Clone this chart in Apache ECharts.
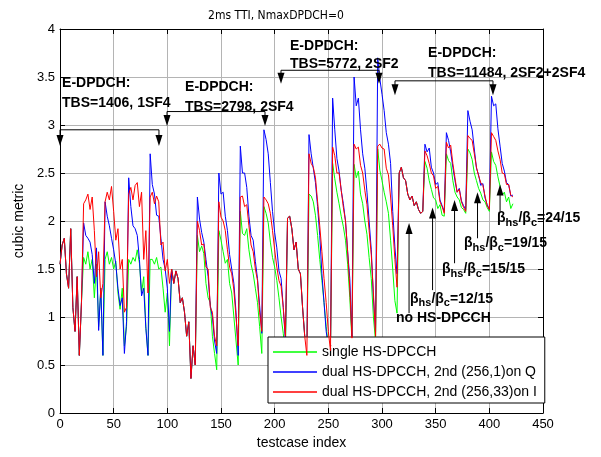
<!DOCTYPE html>
<html><head><meta charset="utf-8">
<script src="https://cdn.jsdelivr.net/npm/echarts@6/dist/echarts.min.js"></script>
<style>html,body{margin:0;padding:0;background:#fff}#c{width:601px;height:457px}</style>
</head><body><div id="c"></div>
<script>
const FONT = "'Liberation Sans', Arial, Helvetica, sans-serif";
const NARROW = "'Liberation Sans Narrow', 'Arial Narrow', 'DejaVu Sans Condensed', 'Liberation Sans', sans-serif";
const seriesNames = ['single HS-DPCCH', 'dual HS-DPCCH, 2nd (256,1)on Q', 'dual HS-DPCCH, 2nd (256,33)on I'];
const seriesColors = ['#00ff00', '#0000ff', '#ff0000'];
const xTickValues = [0, 50, 100, 150, 200, 250, 300, 350, 400, 450];
const yTickValues = [0, 0.5, 1, 1.5, 2, 2.5, 3, 3.5, 4];
// testcase index sampled every second testcase (0 .. 422)
const testcase = [];
for (let i = 0; i < 212; i++) testcase.push(i * 2);

const single = [
1.55,1.75,1.82,1.45,1.3,1.92,1.1,0.85,1.42,0.6,1.15,
1.62,1.55,1.68,1.5,1.6,1.2,1.55,0.9,1.3,0.6,
1.6,1.68,1.55,1.62,1.5,1.58,1.25,1.08,1.3,0.7,0.9,
1.6,1.55,1.62,1.58,1.7,1.56,1.25,1.42,0.9,0.6,
1.6,1.6,1.55,1.62,1.5,1.52,1.3,1.05,1.25,0.7,
1.5,1.35,1.48,1.4,1.15,1.2,1.05,0.8,0.95,0.36,0.7,0.5,
1.85,1.68,1.74,1.66,1.35,1.2,1.15,0.8,0.62,0.45,
1.9,1.8,1.68,1.56,1.6,1.35,1.25,1.0,0.75,0.5,
2.1,1.87,1.85,1.92,1.7,1.55,1.45,1.3,1.15,0.9,0.62,
2.15,2.08,1.98,1.78,1.62,1.52,1.38,1.2,1.0,0.83,0.6,
2.03,2.05,1.92,1.7,1.78,1.5,1.45,1.1,0.8,0.6,
2.28,2.26,2.2,2.06,1.85,1.6,1.38,1.15,0.9,0.7,0.6,
2.6,2.44,2.3,2.18,2.05,1.94,1.8,1.55,1.2,0.75,
2.59,2.45,2.52,2.28,2.18,2.0,1.86,1.62,1.4,1.0,0.75,
2.75,2.53,2.42,2.3,2.2,2.08,1.8,1.5,1.17,1.04,
2.5,2.56,2.45,2.42,2.28,2.22,2.26,2.16,2.2,2.12,2.08,2.1,
2.62,2.55,2.42,2.33,2.24,2.22,2.13,2.17,2.06,2.05,
2.7,2.63,2.6,2.42,2.3,2.25,2.22,2.14,2.12,2.08,
2.75,2.71,2.64,2.5,2.42,2.34,2.29,2.22,2.2,2.14,2.1,
2.72,2.62,2.58,2.46,2.36,2.27,2.3,2.2,2.25,2.13,2.18
];
const dualQ = [
1.55,1.75,1.82,1.45,1.3,1.92,1.1,0.85,1.42,0.6,1.15,
1.98,1.85,1.82,1.78,1.65,1.35,1.72,0.86,1.3,0.6,
2.2,2.05,1.95,1.82,1.7,1.55,1.3,1.12,1.2,0.62,0.95,
2.45,2.15,1.95,1.92,1.85,1.6,1.22,1.3,0.88,0.6,
2.7,2.38,2.28,2.06,2.05,1.82,1.6,1.5,1.3,0.85,
1.5,1.35,1.48,1.4,1.15,1.2,1.05,0.8,0.95,0.36,0.7,0.5,
2.25,2.02,1.88,1.78,1.6,1.42,1.12,1.0,0.75,0.62,
2.5,2.28,2.3,2.05,1.9,1.65,1.5,1.35,1.05,0.6,
2.78,2.5,2.5,2.35,2.05,1.85,1.8,1.58,1.4,1.12,0.83,
2.95,2.85,2.7,2.4,2.1,1.88,1.72,1.48,1.4,1.1,0.75,
2.03,2.05,1.92,1.7,1.78,1.5,1.45,1.1,0.8,0.6,
2.9,2.7,2.55,2.4,2.15,1.85,1.45,1.15,0.85,0.7,0.6,
3.28,2.95,2.65,2.52,2.32,2.18,2.0,1.68,1.4,0.78,
3.5,3.2,3.28,2.95,2.7,2.55,2.3,2.0,1.7,1.2,0.85,
3.7,3.48,3.32,3.15,2.92,2.8,2.6,2.1,1.73,1.45,
2.5,2.56,2.45,2.42,2.28,2.22,2.26,2.16,2.2,2.12,2.08,2.1,
2.8,2.72,2.76,2.56,2.5,2.38,2.4,2.22,2.16,2.1,
2.92,2.84,2.72,2.56,2.42,2.3,2.34,2.21,2.16,2.12,
3.15,3.04,2.95,2.75,2.55,2.48,2.37,2.39,2.24,2.17,2.12,
3.3,3.2,3.22,2.96,2.78,2.6,2.52,2.4,2.38,2.26,2.27
];
const dualI = [
1.55,1.75,1.82,1.45,1.3,1.92,1.1,0.85,1.42,0.6,1.15,
2.18,2.22,2.28,2.12,2.25,1.9,1.42,1.68,1.2,1.35,
2.2,2.3,2.22,2.36,2.1,1.8,1.92,1.5,1.6,1.05,1.1,
2.28,2.35,2.22,2.37,2.4,2.15,2.3,1.6,1.9,1.25,
2.25,2.3,2.18,2.26,2.2,1.75,1.78,1.48,1.6,1.35,
1.5,1.35,1.48,1.4,1.15,1.2,1.05,0.8,0.95,0.36,0.7,0.5,
2.0,1.9,1.75,1.76,1.52,1.5,1.1,1.05,0.8,0.7,
2.2,2.04,2.0,1.9,1.7,1.52,1.45,1.28,1.0,0.7,
2.25,2.26,2.15,2.17,1.95,1.75,1.68,1.5,1.38,1.05,0.85,
2.25,2.22,2.18,2.08,1.9,1.7,1.52,1.38,1.32,1.1,0.8,
2.03,2.05,1.92,1.7,1.78,1.5,1.45,1.1,0.8,0.6,
2.7,2.6,2.56,2.45,2.2,1.95,1.68,1.4,1.15,0.85,0.65,
2.77,2.68,2.5,2.5,2.32,2.14,2.0,1.68,1.3,0.78,
2.8,2.75,2.77,2.58,2.5,2.32,2.17,1.9,1.65,1.25,0.8,
2.78,2.8,2.76,2.75,2.55,2.48,2.25,1.95,1.6,1.31,
2.5,2.56,2.45,2.42,2.28,2.22,2.26,2.16,2.2,2.12,2.08,2.1,
2.73,2.68,2.6,2.5,2.47,2.34,2.36,2.2,2.15,2.08,
2.82,2.76,2.79,2.6,2.45,2.3,2.33,2.2,2.14,2.1,
2.89,2.86,2.84,2.7,2.56,2.47,2.4,2.37,2.26,2.16,2.12,
2.92,2.88,2.84,2.73,2.64,2.5,2.49,2.38,2.38,2.27,2.25
];

// annotation anchors, in data units
const brackets = [
  {x1: 0, x2: 92.2, y: 2.95, tip: 2.78},
  {x1: 99.7, x2: 191, y: 3.14, tip: 2.99},
  {x1: 205.9, x2: 297.2, y: 3.57, tip: 3.43},
  {x1: 312.1, x2: 403.4, y: 3.46, tip: 3.31}
];
const groupLabels = [
  {x: 1.9, y1: 3.44, y2: 3.23, t1: 'E-DPDCH:', t2: 'TBS=1406, 1SF4'},
  {x: 116.5, y1: 3.39, y2: 3.19, t1: 'E-DPDCH:', t2: 'TBS=2798, 2SF4'},
  {x: 214.3, y1: 3.82, y2: 3.63, t1: 'E-DPDCH:', t2: 'TBS=5772, 2SF2'},
  {x: 342.9, y1: 3.75, y2: 3.54, t1: 'E-DPDCH:', t2: 'TBS=11484, 2SF2+2SF4'}
];
const betaArrows = [
  {x: 325.2, from: 1.04, to: 1.98},
  {x: 347.1, from: 1.28, to: 2.14},
  {x: 367.6, from: 1.56, to: 2.22},
  {x: 389.0, from: 1.82, to: 2.30},
  {x: 410.0, from: 2.10, to: 2.38}
];
const betaLabels = [
  {x: 313, y: 0.99, ratio: null, text: 'no HS-DPCCH'},
  {x: 326.1, y: 1.19, ratio: '12/15'},
  {x: 355.9, y: 1.50, ratio: '15/15'},
  {x: 376.4, y: 1.77, ratio: '19/15'},
  {x: 407.2, y: 2.03, ratio: '24/15'}
];

const chart = echarts.init(document.getElementById('c'), null, {renderer: 'canvas'});
const values = [single, dualQ, dualI];
const axisCommon = {
  type: 'value',
  axisLine: {show: true, onZero: false, lineStyle: {color: '#000', width: 1}},
  axisTick: {show: true, inside: true, length: 5, lineStyle: {color: '#000'}}
};
const option = {
  animation: false,
  backgroundColor: '#fff',
  grid: {left: 60, right: 58, top: 29, bottom: 44, containLabel: false},
  xAxis: [
    Object.assign({}, axisCommon, {
      min: xTickValues[0], max: xTickValues[xTickValues.length - 1], interval: 50, position: 'bottom',
      axisLabel: {fontSize: 13, color: '#000', fontFamily: FONT, margin: 5},
      splitLine: {show: true, lineStyle: {color: '#b4b4b4', width: 1}},
      name: 'testcase index', nameLocation: 'middle', nameGap: 23,
      nameTextStyle: {fontSize: 14, color: '#000', fontFamily: FONT}
    }),
    Object.assign({}, axisCommon, {
      min: xTickValues[0], max: xTickValues[xTickValues.length - 1], interval: 50, position: 'top',
      axisLabel: {show: false}, splitLine: {show: false}
    })
  ],
  yAxis: [
    Object.assign({}, axisCommon, {
      min: yTickValues[0], max: yTickValues[yTickValues.length - 1], interval: 0.5, position: 'left',
      axisLabel: {fontSize: 13, color: '#000', fontFamily: FONT, margin: 5},
      splitLine: {show: true, lineStyle: {color: '#b4b4b4', width: 1}},
      name: 'cubic metric', nameLocation: 'middle', nameGap: 32,
      nameTextStyle: {fontSize: 14, color: '#000', fontFamily: FONT}
    }),
    Object.assign({}, axisCommon, {
      min: yTickValues[0], max: yTickValues[yTickValues.length - 1], interval: 0.5, position: 'right',
      axisLabel: {show: false}, splitLine: {show: false}
    })
  ],
  title: {
    text: '2ms TTI, NmaxDPDCH=0', left: 271, top: 5, textAlign: 'center',
    textStyle: {fontSize: 12, fontWeight: 'normal', color: '#000', fontFamily: NARROW}
  },
  legend: {
    orient: 'vertical', left: 268, top: 337,
    itemWidth: 44, itemHeight: 14, itemGap: 6,
    icon: 'path://M0,0L44,0L44,1.3L0,1.3Z',
    symbolKeepAspect: true,
    padding: [8, 8, 4, 5],
    backgroundColor: '#fff', borderColor: '#000', borderWidth: 1, borderRadius: 0,
    textStyle: {fontSize: 14, color: '#000', fontFamily: FONT},
    data: seriesNames
  },
  series: seriesNames.map((name, k) => ({
    name: name, type: 'line', xAxisIndex: 0, yAxisIndex: 0,
    symbol: 'none', showSymbol: false,
    color: seriesColors[k],
    itemStyle: {color: seriesColors[k]},
    lineStyle: {width: 1, color: seriesColors[k]},
    data: testcase.map((x, i) => [x, values[k][i]]),
    z: 2 + k
  }))
};
chart.setOption(option);

function P(x, y) { return chart.convertToPixel({xAxisIndex: 0, yAxisIndex: 0}, [x, y]); }
const g = [];
const AW = 3.5, AH = 11;
function line(x1, y1, x2, y2) {
  g.push({type: 'line', z: 100, shape: {x1: x1, y1: y1, x2: x2, y2: y2}, style: {stroke: '#000', lineWidth: 1}});
}
function head(x, y, dir) { // dir 1: points down, -1: points up
  g.push({type: 'polygon', z: 100, shape: {points: [[x - AW, y - dir * AH], [x + AW, y - dir * AH], [x, y]]}, style: {fill: '#000'}});
}
function text(x, y, t) {
  g.push({type: 'text', z: 101, style: {x: x, y: y, text: t, fill: '#000', font: 'bold 14px ' + FONT, align: 'left', verticalAlign: 'middle'}});
}
brackets.forEach(b => {
  const a = P(b.x1, b.y), c = P(b.x2, b.y), ta = P(b.x1, b.tip), tc = P(b.x2, b.tip);
  line(a[0], a[1], c[0], c[1]);
  line(a[0], a[1], ta[0], ta[1] - AH + 1);
  line(c[0], c[1], tc[0], tc[1] - AH + 1);
  head(ta[0], ta[1], 1);
  head(tc[0], tc[1], 1);
});
groupLabels.forEach(l => {
  const p1 = P(l.x, l.y1), p2 = P(l.x, l.y2);
  text(p1[0], p1[1], l.t1);
  text(p2[0], p2[1], l.t2);
});
betaArrows.forEach(b => {
  const f = P(b.x, b.from), t = P(b.x, b.to);
  line(f[0], f[1], t[0], t[1] + AH - 1);
  head(t[0], t[1], -1);
});
betaLabels.forEach(l => {
  const p = P(l.x, l.y);
  if (!l.ratio) { text(p[0], p[1], l.text); return; }
  g.push({type: 'text', z: 101, style: {
    x: p[0], y: p[1], align: 'left', verticalAlign: 'middle', fill: '#000',
    text: '{b|β}{s|hs}{b|/β}{s|c}{b|=' + l.ratio + '}',
    rich: {
      b: {fontSize: 14, fontWeight: 'bold', fontFamily: FONT, fill: '#000', lineHeight: 18},
      s: {fontSize: 11, fontWeight: 'bold', fontFamily: FONT, fill: '#000', padding: [9, 0, 0, 0], lineHeight: 18}
    }
  }});
});
chart.setOption({graphic: g});
</script>
</body></html>
